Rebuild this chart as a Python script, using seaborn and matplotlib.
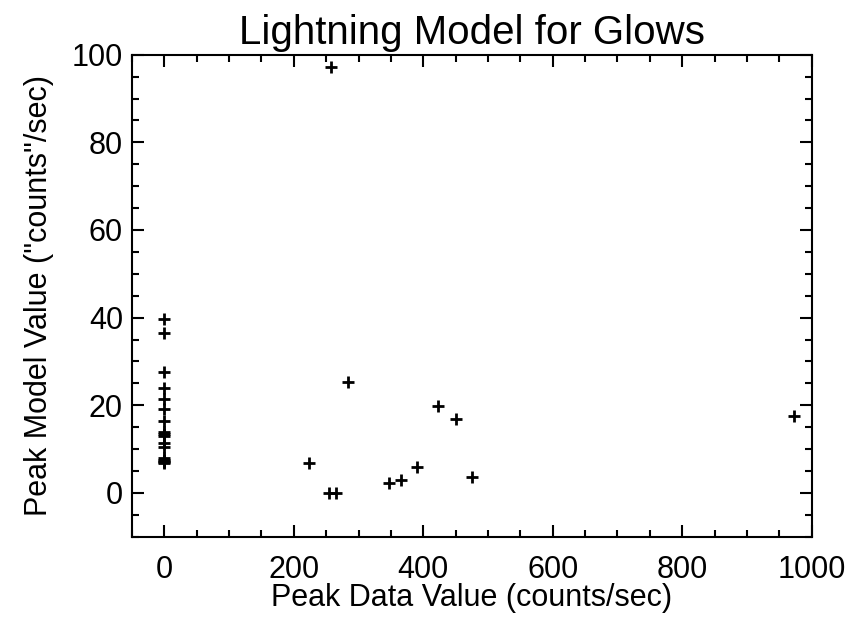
import matplotlib
matplotlib.use("Agg")
import matplotlib.pyplot as plt
from matplotlib.ticker import MultipleLocator
import seaborn as sns
import pandas as pd

# Peak data value (counts/sec) vs. peak model value for each glow event
peak_data = [0, 0, 0, 0, 0, 0, 0, 0, 0, 0, 0, 0, 0, 0, 0, 0, 0,
             283.5, 423.3, 451.2, 223.8, 389.8, 475.9, 346.5, 366.1,
             254.0, 264.5, 256.8, 971.9]
peak_model = [39.6, 36.6, 27.6, 24.0, 21.5, 19.2, 16.5, 13.9, 12.9,
              11.3, 10.4, 8.0, 7.5, 7.0, 6.8, 13.5, 7.2,
              25.3, 19.9, 16.8, 6.8, 6.0, 3.7, 2.35, 3.0,
              0.0, 0.0, 97.3, 17.5]

df = pd.DataFrame({"data": peak_data, "model": peak_model})

sns.set_theme(style="ticks")
plt.rcParams["font.family"] = ["Liberation Sans", "DejaVu Sans"]

fig = plt.figure(figsize=(8.66, 6.19), dpi=100)
ax = fig.add_axes([0.1524, 0.1330, 0.9373 - 0.1524, 0.9116 - 0.1330])

sns.scatterplot(data=df, x="data", y="model", ax=ax, marker="+",
                color="black", s=70, linewidth=2.0, legend=False)

ax.set_xlim(-50, 1000)
ax.set_ylim(-10, 100)
ax.xaxis.set_major_locator(MultipleLocator(200))
ax.xaxis.set_minor_locator(MultipleLocator(50))
ax.yaxis.set_major_locator(MultipleLocator(20))
ax.yaxis.set_minor_locator(MultipleLocator(5))

for side in ["left", "right", "top", "bottom"]:
    ax.spines[side].set_visible(True)
    ax.spines[side].set_linewidth(1.5)
    ax.spines[side].set_color("black")

ax.tick_params(which="both", direction="in", top=True, right=True,
               color="black", width=1.5, labelsize=22, labelcolor="black")
ax.tick_params(which="major", length=8.6)
ax.tick_params(which="minor", length=5)
ax.tick_params(axis="x", which="major", pad=13)
ax.tick_params(axis="y", which="major", pad=6.5)

ax.set_xlabel("Peak Data Value (counts/sec)", fontsize=22, color="black", labelpad=-1)
ax.set_ylabel('Peak Model Value ("counts"/sec)', fontsize=22, color="black", labelpad=13)
ax.set_title("Lightning Model for Glows", fontsize=29, color="black", pad=8)

fig.savefig("out.png", dpi=100, facecolor="white")
